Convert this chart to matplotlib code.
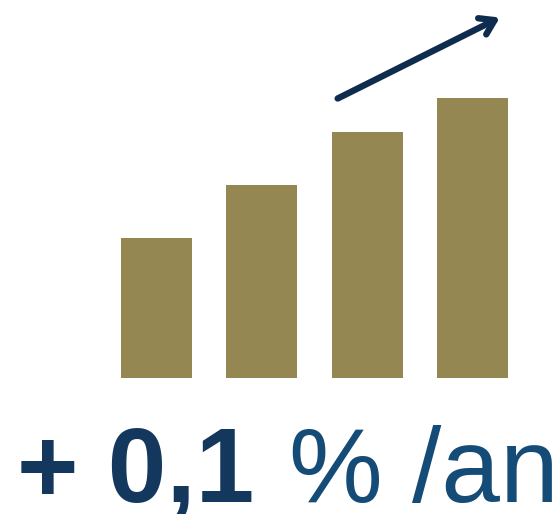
import matplotlib
matplotlib.use("Agg")
import matplotlib.pyplot as plt

# bar heights (arbitrary units)
categories = ["1", "2", "3", "4"]
values = [1.40, 1.93, 2.45, 2.80]
label_bold = "+ 0,1"
label_reg = "% /an"

W, H = 558, 514
fig = plt.figure(figsize=(W / 100, H / 100), dpi=100)
ax = fig.add_axes([0, 0, 1, 1])
ax.axis("off")

x = list(range(len(categories)))
ax.bar(x, values, width=0.674, color="#958752")

# pixel-aligned limits
step = 105.33
ax.set_xlim(-156.5 / step, (W - 156.5) / step)
ax.set_ylim(-1.365, (H - 136.5) / 100)

# trend arrow above the bars
ax.annotate("", xy=(3.26, 3.60), xytext=(1.72, 2.79),
            arrowprops=dict(arrowstyle="->,head_length=1.0,head_width=0.65",
                            color="#0E2D4E", lw=4.6, shrinkA=0, shrinkB=0))

fig.text(17 / W, 1 - 502 / H, label_bold, fontsize=76, fontweight="bold",
         family="Liberation Sans", color="#14375E", va="baseline", ha="left")
fig.text(289 / W, 1 - 502 / H, label_reg, fontsize=76,
         family="Liberation Sans", color="#154C77", va="baseline", ha="left")

fig.savefig("out.png", dpi=100)
